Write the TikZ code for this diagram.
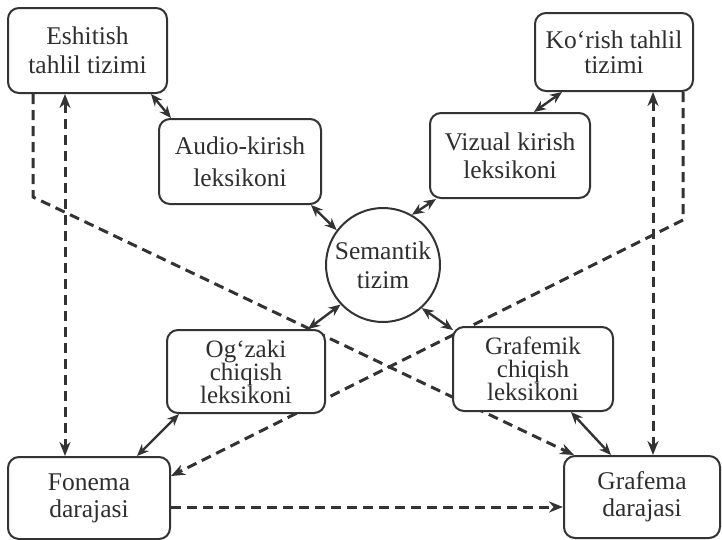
\documentclass[tikz,border=0pt]{standalone}
\usepackage{fontspec}
\setmainfont{Liberation Serif}
\usetikzlibrary{arrows.meta,backgrounds}

\begin{document}
\begin{tikzpicture}[x=1pt,y=-1pt,
  every node/.style={inner sep=0pt,text=black!82},
  blk/.style={draw=black!80,fill=white,rounded corners=11pt,line width=2pt,align=center},
  circ/.style={draw=black!80,fill=white,circle,line width=2pt,align=center,minimum size=114pt},
  link/.style={draw=black!80,line width=2.4pt,{Stealth[length=12pt,width=10pt]}-{Stealth[length=12pt,width=10pt]}},
  dline/.style={draw=black!80,line width=3pt,dash pattern=on 10pt off 6pt,-{Stealth[length=14pt,width=11pt]}},
  both/.style={{Stealth[length=14pt,width=11pt]}-{Stealth[length=14pt,width=11pt]}}]
\useasboundingbox (0,0) rectangle (722,539);

\node[blk,minimum width=159pt,minimum height=85pt,font=\fontsize{25.5}{29}\selectfont] (esh) at (87.5,50.5) {Eshitish\\tahlil tizimi};
\node[blk,minimum width=158pt,minimum height=78pt,font=\fontsize{25.5}{25}\selectfont] (kor) at (614,52) {Ko‘rish tahlil\\tizimi};
\node[blk,minimum width=162pt,minimum height=85pt,font=\fontsize{25.5}{32}\selectfont] (audio) at (240,161.5) {Audio-kirish\\leksikoni};
\node[blk,minimum width=160pt,minimum height=85pt,font=\fontsize{25.5}{28}\selectfont] (viz) at (510,155.5) {Vizual kirish\\leksikoni};
\node[circ,font=\fontsize{25.5}{29}\selectfont] (sem) at (383,265) {Semantik\\tizim};
\node[blk,minimum width=158pt,minimum height=83pt,font=\fontsize{25}{23}\selectfont] (ogz) at (246,371.5) {Og‘zaki\\chiqish\\leksikoni};
\node[blk,minimum width=160pt,minimum height=84pt,font=\fontsize{25}{23}\selectfont] (grafik) at (533,369) {Grafemik\\chiqish\\leksikoni};
\node[blk,minimum width=162pt,minimum height=82pt,font=\fontsize{25.5}{27}\selectfont] (fon) at (89,498) {Fonema\\darajasi};
\node[blk,minimum width=156pt,minimum height=82pt,font=\fontsize{25.5}{27}\selectfont] (grafema) at (642,497) {Grafema\\darajasi};

\coordinate (eshturn) at (33,197);
\coordinate (korturn) at (683,220);
\coordinate (leftup) at (65,0);
\coordinate (rightup) at (653,0);

\begin{pgfonlayer}{background}
\fill[white] (0,0) rectangle (722,539);
\draw[dline] (esh.south -| eshturn) -- (eshturn) -- ([xshift=11pt]grafema.north west);
\draw[dline] (kor.south -| korturn) -- (korturn) -- ([yshift=-20pt]fon.north east);
\draw[dline,both] (esh.south -| leftup) -- (fon.north -| leftup);
\draw[dline,both] (kor.south -| rightup) -- (grafema.north -| rightup);
\draw[dline] ([yshift=-9pt]fon.east) -- ([yshift=-9pt]fon.east -| grafema.west);
\end{pgfonlayer}

\draw[link] ([xshift=-17pt]esh.south east) -- ([xshift=13pt]audio.north west);
\draw[link] ([xshift=-11pt]audio.south east) -- (sem.143);
\draw[link] ([xshift=7pt]viz.south west) -- (sem.60);
\draw[link] ([xshift=-57pt]viz.north east) -- ([xshift=28pt]kor.south west);
\draw[link] (sem.223) -- ([xshift=-18pt]ogz.north east);
\draw[link] (sem.312) -- ([xshift=1pt,yshift=-4pt]grafik.north west);
\draw[link] ([xshift=13pt]ogz.south west) -- ([xshift=130pt]fon.north west);
\draw[link] ([xshift=119pt]grafik.south west) -- ([xshift=48pt]grafema.north west);
\end{tikzpicture}
\end{document}
